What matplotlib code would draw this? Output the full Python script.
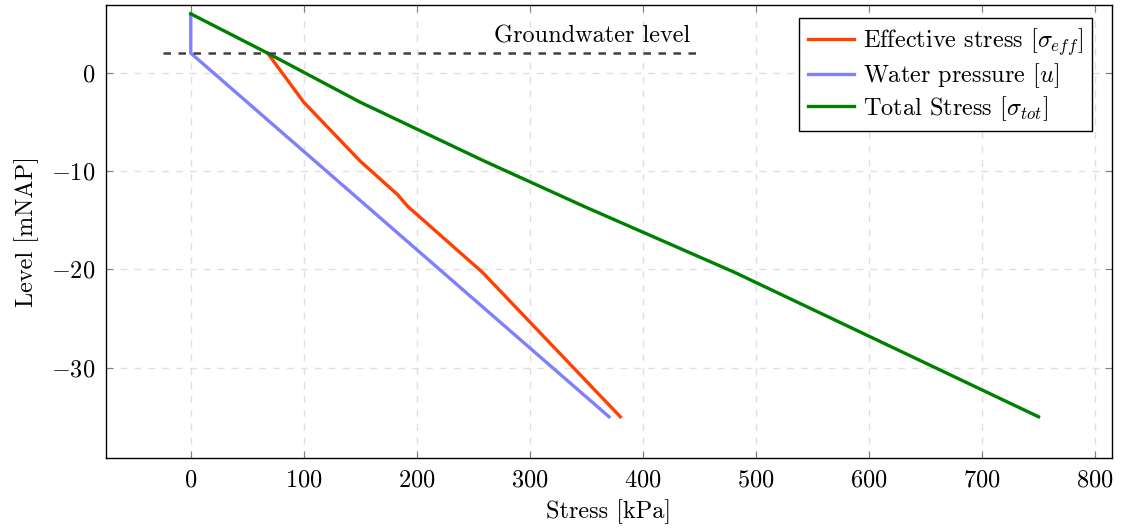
import matplotlib
matplotlib.use("Agg")
import matplotlib.pyplot as plt

plt.rcParams['font.family'] = ['cmr10', 'DejaVu Sans']
plt.rcParams['mathtext.fontset'] = 'cm'
plt.rcParams['axes.formatter.use_mathtext'] = True
plt.rcParams['font.size'] = 17.5

# levels (mNAP) and stresses (kPa)
u_level = [6, 2, -35]
u_stress = [0, 0, 370]

eff_level = [2, -3, -9, -12.4, -13.6, -20.3, -35]
eff_stress = [68, 100, 150, 183, 192, 258, 380]

tot_level = [6, 2, -3, -9, -13.6, -20.3, -35]
tot_stress = [0, 68, 150, 260, 348, 481, 750]

gw_level = 2
gw_x = [-25, 450]

fig = plt.figure(figsize=(11.24, 5.3), dpi=100)
ax = fig.add_axes([0.0943, 0.1358, 0.895, 0.8548])

ax.plot(eff_stress, eff_level, color='#ff4000', lw=2.4, label=r'Effective stress [$\sigma_{eff}$]')
ax.plot(u_stress, u_level, color='#8080ff', lw=2.4, label=r'Water pressure [$u$]')
ax.plot(tot_stress, tot_level, color='#008000', lw=2.4, label=r'Total Stress [$\sigma_{tot}$]')
ax.plot(gw_x, [gw_level, gw_level], color='#404040', lw=1.8, ls=(0, (3, 3)))
ax.text(gw_x[1] - 8, gw_level + 0.6, 'Groundwater level', ha='right', va='bottom')

ax.set_xlim(-75, 815)
ax.set_ylim(-39.2, 6.9)
ax.set_xticks(range(0, 801, 100))
ax.set_yticks([-30, -20, -10, 0])
ax.grid(True, color='#e0e0e0', ls=(0, (5, 5)), lw=1)
ax.tick_params(direction='in', top=True, right=True, length=5, color='#808080', pad=8)
for s in ax.spines.values():
    s.set_linewidth(1)

ax.set_xlabel('Stress [kPa]', labelpad=6)
ax.set_ylabel('Level [mNAP]', labelpad=8)

leg = ax.legend(loc='upper right', bbox_to_anchor=(0.98, 0.972), borderaxespad=0,
                fancybox=False, framealpha=1, edgecolor='black',
                handlelength=1.9, labelspacing=0.15, handletextpad=0.4, borderpad=0.35)
leg.get_frame().set_linewidth(1)

fig.savefig('out.png')
